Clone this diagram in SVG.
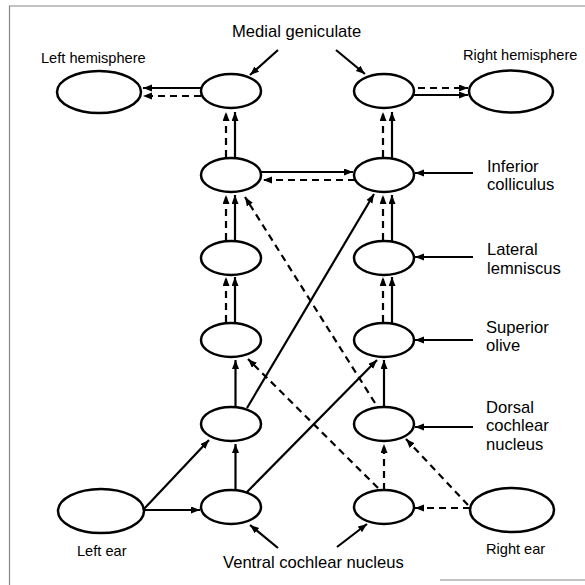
<svg xmlns="http://www.w3.org/2000/svg" width="585" height="585" viewBox="0 0 585 585">
<defs>
<marker id="ah" markerUnits="userSpaceOnUse" markerWidth="10" markerHeight="8" refX="9" refY="3.5" orient="auto">
<path d="M0,0 L9,3.5 L0,7 z" fill="#000"/>
</marker>
<style>
.n{fill:#fff;stroke:#000;stroke-width:2.5}
.c line{stroke:#000;stroke-width:2.2;marker-end:url(#ah)}
.c line.d{stroke-dasharray:7 5}
.L{font-family:"Liberation Sans",Arial,sans-serif;font-size:16.6px;fill:#000}
.S{font-family:"Liberation Sans",Arial,sans-serif;font-size:14.6px;fill:#000}
.frame{stroke:#888;stroke-width:1.2;fill:none}
</style>
</defs>
<rect width="585" height="585" fill="#fff"/>
<path class="frame" d="M9.5,585 L9.5,6 L585,6"/>
<path class="frame" d="M440,580 L585,580"/>

<g id="left-hemisphere"><ellipse class="n" cx="99" cy="92" rx="42" ry="21"/><text class="S" x="41" y="63">Left hemisphere</text></g>
<g id="right-hemisphere"><ellipse class="n" cx="511" cy="91.5" rx="42" ry="21"/><text class="S" x="463" y="60">Right hemisphere</text></g>
<g id="left-ear"><ellipse class="n" cx="101" cy="511" rx="43" ry="22"/><text class="S" x="77" y="556">Left ear</text></g>
<g id="right-ear"><ellipse class="n" cx="512" cy="510" rx="42" ry="22"/><text class="S" x="486" y="554">Right ear</text></g>

<g id="mg-left"><ellipse class="n" cx="231" cy="91" rx="30" ry="17"/></g>
<g id="mg-right"><ellipse class="n" cx="384" cy="91" rx="30" ry="17"/></g>
<g id="ic-left"><ellipse class="n" cx="231" cy="175" rx="30" ry="17"/></g>
<g id="ic-right"><ellipse class="n" cx="384" cy="175" rx="30" ry="17"/></g>
<g id="ll-left"><ellipse class="n" cx="231" cy="258" rx="30" ry="17"/></g>
<g id="ll-right"><ellipse class="n" cx="384" cy="258" rx="30" ry="17"/></g>
<g id="so-left"><ellipse class="n" cx="231" cy="340" rx="30" ry="17"/></g>
<g id="so-right"><ellipse class="n" cx="384" cy="340" rx="30" ry="17"/></g>
<g id="dcn-left"><ellipse class="n" cx="231" cy="424" rx="30" ry="17"/></g>
<g id="dcn-right"><ellipse class="n" cx="384" cy="424" rx="30" ry="17"/></g>
<g id="vcn-left"><ellipse class="n" cx="231" cy="507" rx="30" ry="17"/></g>
<g id="vcn-right"><ellipse class="n" cx="384" cy="507" rx="30" ry="17"/></g>

<g id="labels">
<text class="L" x="232" y="37">Medial geniculate</text>
<text class="L" x="487" y="172">Inferior<tspan x="487" y="190">colliculus</tspan></text>
<text class="L" x="487" y="255">Lateral<tspan x="487" y="273.5">lemniscus</tspan></text>
<text class="L" x="486" y="333">Superior<tspan x="486" y="351">olive</tspan></text>
<text class="L" x="486" y="412.5">Dorsal<tspan x="486" y="431">cochlear</tspan><tspan x="486" y="449.5">nucleus</tspan></text>
<text class="L" x="223" y="568">Ventral cochlear nucleus</text>
</g>

<g id="connectors" class="c">
<line x1="202" y1="88" x2="143" y2="88"/>
<line class="d" x1="201" y1="96" x2="143" y2="96"/>
<line class="d" x1="418" y1="88" x2="468" y2="88"/>
<line x1="413" y1="95" x2="468" y2="95"/>
<line class="d" x1="226" y1="157" x2="226" y2="112"/>
<line x1="235" y1="158" x2="235" y2="112"/>
<line class="d" x1="383" y1="157" x2="383" y2="112"/>
<line x1="392" y1="158" x2="392" y2="112"/>
<line x1="261" y1="172" x2="353" y2="172"/>
<line class="d" x1="355" y1="180" x2="263" y2="180"/>
<line class="d" x1="226" y1="240" x2="226" y2="195"/>
<line x1="235" y1="241" x2="235" y2="195"/>
<line class="d" x1="383" y1="240" x2="383" y2="195"/>
<line x1="392" y1="241" x2="392" y2="195"/>
<line class="d" x1="226" y1="322" x2="226" y2="277"/>
<line x1="235" y1="323" x2="235" y2="277"/>
<line class="d" x1="383" y1="322" x2="383" y2="277"/>
<line x1="392" y1="323" x2="392" y2="277"/>
<line x1="235.5" y1="407" x2="235.5" y2="360"/>
<line x1="384" y1="407" x2="384" y2="360"/>
<line x1="235.5" y1="490" x2="235.5" y2="444"/>
<line class="d" x1="384" y1="490" x2="384" y2="444"/>
<line x1="143" y1="510" x2="200" y2="510"/>
<line x1="143" y1="510" x2="209" y2="440"/>
<line class="d" x1="470" y1="508" x2="415" y2="508"/>
<line class="d" x1="468" y1="505" x2="406" y2="439"/>
<line x1="247" y1="408" x2="374" y2="194"/>
<line x1="247" y1="492" x2="377" y2="360"/>
<line class="d" x1="375" y1="403" x2="245" y2="197"/>
<line class="d" x1="378" y1="488" x2="248" y2="359"/>
<line x1="278" y1="50" x2="250" y2="75"/>
<line x1="336" y1="50" x2="365" y2="74"/>
<line x1="473" y1="173" x2="415" y2="173"/>
<line x1="473" y1="257" x2="415" y2="257"/>
<line x1="473" y1="340" x2="415" y2="340"/>
<line x1="473" y1="427" x2="415" y2="427"/>
<line x1="278" y1="548" x2="250" y2="525"/>
<line x1="337" y1="547" x2="367" y2="524"/>
</g>
</svg>
